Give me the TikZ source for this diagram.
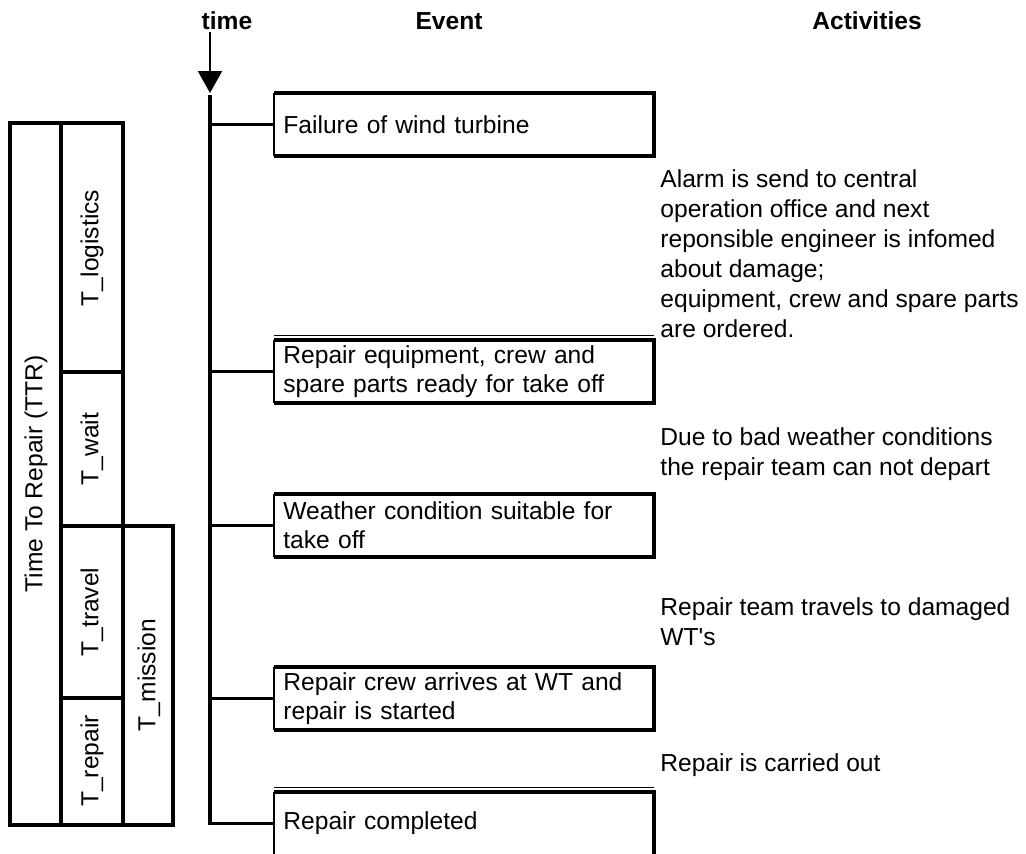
\documentclass[tikz,border=0pt]{standalone}
\usepackage{fontspec}
\setmainfont{Liberation Sans}
\usetikzlibrary{arrows.meta,positioning}
\tikzset{
  tbar/.style={line width=1.7pt},
  tthin/.style={line width=0.9pt},
  tarr/.style={-{Triangle[length=11pt,width=12pt]},line width=1.1pt},
  hdr/.style={inner sep=0pt,font=\bfseries\fontsize{12.3}{14.5}\selectfont},
  evbox/.style={rectangle,anchor=north west,minimum width=189.5pt,minimum height=31pt,
    text width=180.5pt,inner xsep=4.5pt,inner ysep=0pt,align=left,
    font=\fontsize{12.3}{14.5}\selectfont},
  actxt/.style={anchor=west,inner sep=0pt,align=left,font=\fontsize{12.3}{15}\selectfont},
  seglbl/.style={rotate=90,inner sep=0pt,font=\fontsize{12.3}{14.5}\selectfont},
}
\begin{document}
\begin{tikzpicture}[x=0.5pt,y=-0.5pt]
  \useasboundingbox (0,0) rectangle (1026,853);
  % headers
  \node[hdr] (htime) at (227,21) {time};
  \node[hdr] (hevent) at (449,21) {Event};
  \node[hdr] (hact) at (867,21) {Activities};
  \coordinate (arrtop) at (210,32);
  \coordinate (arrtip) at (210,93);
  \draw[tarr] (arrtop) -- (arrtip);
  % events
  \node[evbox] (ev1) at (274,93)  {Failure of wind turbine};
  \node[evbox] (ev2) at (274,340) {Repair equipment, crew and\\spare parts ready for take off};
  \node[evbox] (ev3) at (274,494) {Weather condition suitable for\\take off};
  \node[evbox] (ev4) at (274,667) {Repair crew arrives at WT and\\repair is started};
  \node[evbox] (ev5) at (274,792) {Repair completed};
  \foreach \i in {1,...,4} {
    \draw[tthin] (ev\i.north west) -- (ev\i.south west);
    \draw[tbar] (ev\i.north west) -- (ev\i.north east) -- (ev\i.south east) -- (ev\i.south west);
  }
  \draw[tthin] (ev5.north west) -- (ev5.south west);
  \draw[tbar] (ev5.north west) -- (ev5.north east) -- (ev5.south east);
  \foreach \i in {2,5}
    \draw[tthin] ([yshift=2.3pt]ev\i.north west) -- ([yshift=2.3pt]ev\i.north east);
  % time line
  \coordinate (tl) at (210,95);
  \draw[tbar] (tl) -- (tl |- ev5.west) -- (ev5.west);
  \foreach \i in {1,...,4} \draw[tbar] (tl |- ev\i.west) -- (ev\i.west);
  % activities
  \node[actxt] (act1) at (660,254) {Alarm is send to central\\operation office and next\\reponsible engineer is infomed\\about damage;\\equipment, crew and spare parts\\are ordered.};
  \node[actxt] (act2) at (660,454) {Due to bad weather conditions\\the repair team can not depart};
  \node[actxt] (act3) at (660,622) {Repair team travels to damaged\\WT\textquotesingle s};
  \node[actxt] (act4) at (660,765) {Repair is carried out};
  % time to repair bars
  \draw[tbar] (125,123) -- (10,123) -- (10,825) -- (175,825);
  \draw[tbar] (61,123) -- (61,825);
  \draw[tbar] (123,123) -- (123,825);
  \draw[tbar] (63,372) -- (123,372);
  \draw[tbar] (63,526) -- (175,526);
  \draw[tbar] (63,698) -- (123,698);
  \draw[tbar] (173,526) -- (173,825);
  \node[seglbl] (ttr) at (36,474) {Time To Repair (TTR)};
  \node[seglbl] (tlog) at (92,248) {T\_logistics};
  \node[seglbl] (twait) at (92,449) {T\_wait};
  \node[seglbl] (ttrav) at (92,612) {T\_travel};
  \node[seglbl] (trep) at (92,761) {T\_repair};
  \node[seglbl] (tmis) at (149,675) {T\_mission};
\end{tikzpicture}
\end{document}
